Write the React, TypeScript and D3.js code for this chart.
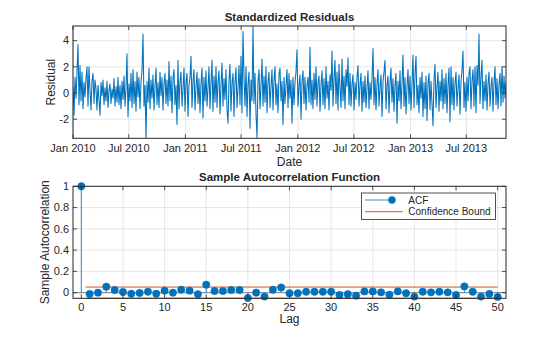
import React from "react";
import * as d3 from "d3";

// ---------- data ----------
const seriesStart = new Date(2010, 0, 1);
const seriesEnd = new Date(2013, 10, 7);

// standardized residuals (hand-estimated, read left to right from the picture)
const residuals = [
  0.5, -1.7, 1.2, -0.4, 1.6, 3.7, -0.9, 2.1, -0.6, 1.6, -1.2, 0.8, -0.3, 1.1, 2.0, -1.0, 2.0, 0.2, -1.3, 0.9,
  1.5, -0.8, 1.0, 0.3, -1.3, 0.6, -0.5, -1.7, 0.8, -0.2, 1.0, -0.9, 0.4, -0.6, 0.9, -1.1, 0.2, 0.7, -0.8, 0.3,
  -0.4, 1.1, -1.0, 0.5, -0.7, 1.2, -0.9, 0.6, -1.2, 0.9, -0.5, 1.3, -1.0, 0.4, 3.0, -1.8, 0.7, -0.6, 1.5, -1.1,
  1.8, -0.8, 0.9, -1.4, 1.6, -0.3, 1.2, -1.2, 0.8, 1.7, 4.5, -1.0, 0.6, -3.46, 0.9, -0.7, 1.9, -1.2, 1.0, -0.4,
  1.4, -1.3, 0.5, 1.9, -0.9, 0.8, -1.1, 1.6, -0.2, 1.2, -1.3, 0.7, 1.5, -0.8, 1.0, -1.0, 2.4, -0.6, 1.3, -1.5,
  1.1, 1.8, -0.9, 0.6, -2.4, 2.5, -1.2, 0.9, 1.6, -1.0, 0.3, 1.9, -1.4, 0.8, 1.5, -1.8, 0.6, 1.2, 2.8, -1.1,
  0.9, 1.8, -1.3, 0.5, 1.6, -0.8, 1.1, -1.5, 0.7, 1.9, -1.9, 1.2, -0.6, 1.7, -1.0, 0.4, 2.0, -1.2, 0.8, 2.5,
  -1.4, 1.3, -0.7, 2.0, -1.1, 0.9, 1.7, -1.6, 0.6, 2.3, -1.0, 1.1, -0.5, 1.8, -1.2, -2.3, 1.0, 2.2, -1.4, 0.8,
  1.5, -1.8, 0.9, 1.9, -1.1, 0.4, 2.1, -0.9, 2.8, -1.5, 4.7, 1.2, -1.0, 2.0, -1.8, 0.7, 1.6, -2.7, 1.0, -0.6,
  5.1, -0.8, 1.5, -1.6, -3.4, 0.9, 1.8, -1.2, 0.6, 2.6, -1.0, 1.3, -0.7, 2.0, -1.5, 0.8, 1.6, -1.1, 0.5, 1.8,
  -1.3, 1.0, 2.0, -0.9, 0.7, -1.5, 1.4, 1.9, -0.6, 0.9, -2.4, 1.2, -0.8, 0.6, 1.8, -1.1, 1.5, -0.4, 1.0, -2.3,
  1.2, -0.9, 0.8, 1.6, 3.3, -1.0, 0.5, 1.4, -2.0, 0.9, 1.7, -0.8, 1.2, -1.3, 0.6, 1.2, -0.7, 3.5, -0.9, 1.0,
  -1.2, 1.5, -0.5, 2.0, -1.0, 0.8, 1.3, -1.4, 0.6, 1.7, -0.9, 1.1, -1.2, 2.0, -0.4, 0.9, -1.3, 1.4, 0.2, 3.2,
  -1.0, 1.1, 2.5, -0.8, 1.6, -1.3, 2.2, 0.4, -1.1, 2.6, -0.6, 1.3, -1.2, 1.8, 0.5, 2.7, -0.9, 1.5, -1.0, 0.7,
  1.4, -1.3, 0.8, -0.5, 1.2, 2.1, -1.0, 0.6, 1.5, -1.4, 0.9, -0.7, 1.3, -1.1, 0.4, 1.7, -1.2, 0.8, -0.5, 1.1,
  3.4, -0.9, 1.2, -1.3, 0.7, 1.8, -1.0, 0.5, 1.4, -1.8, 0.9, 1.6, 2.5, -1.2, 0.6, 1.3, -1.5, 0.8, 1.9, -0.7,
  1.1, -1.4, 0.6, 1.5, -2.3, 0.9, -0.6, 1.7, -1.2, 0.8, 2.9, -1.0, 1.2, -1.6, 0.5, 1.8, -0.8, 1.3, -1.3, 0.7,
  2.9, -1.1, 1.4, 2.8, -0.9, 0.6, -1.5, 1.2, -0.4, 1.6, -1.8, 0.8, -1.2, 1.3, -2.1, 0.7, 1.5, -1.3, 0.9, -0.8,
  -2.5, 1.0, 2.2, -1.1, 0.5, 1.6, -1.4, 0.9, -0.6, 1.8, -1.2, 1.1, -0.8, 1.5, -1.5, 0.6, 1.9, -2.2, 2.0, -0.9,
  1.2, -1.3, 0.7, 1.6, -1.0, 0.4, 1.4, -1.6, 0.9, 1.7, 3.2, -1.1, 0.8, -1.4, 1.2, -0.6, 1.5, 2.0, -1.2, 0.9,
  1.8, -1.0, 2.0, -1.5, 2.1, 0.6, 4.5, -0.8, 1.3, 2.5, -1.2, 0.9, -0.6, 1.4, -1.3, 0.7, 1.6, -1.0, 0.5, 1.2,
  -1.4, 0.8, 2.0, -0.9, 1.1, -1.2, 0.6, 1.5, -1.0, 2.0, -0.7, 1.3, -0.4, 0.8,
];

const residualTicks = [-2, 0, 2, 4];

const acfValues = [
  1.0, -0.012, 0.0, 0.056, 0.025, 0.006, -0.01, -0.003, 0.009, -0.01,
  0.019, 0.0, 0.028, 0.019, -0.015, 0.075, 0.016, 0.016, 0.025, 0.025,
  -0.05, 0.0, -0.037, 0.027, 0.048, -0.006, -0.006, 0.009, 0.009, 0.009,
  0.009, -0.022, -0.015, -0.028, 0.012, 0.012, 0.003, -0.019, 0.012, -0.006,
  -0.037, 0.009, 0.003, 0.009, 0.003, -0.022, 0.059, 0.009, -0.037, -0.012,
  -0.04,
];
const confBound = 0.0526;
const lagTicks = [0, 5, 10, 15, 20, 25, 30, 35, 40, 45, 50];
const acfTicks = [0, 0.2, 0.4, 0.6, 0.8, 1];

// ---------- style ----------
const BLUE = "#0072BD";
const ORANGE = "#D95319";
const AX = "#262626";
const GRID = "#dfdfdf";
const FONT = "'Liberation Sans', Arial, Helvetica, sans-serif";

export default function App() {
  const W = 560, H = 337;

  // top axes
  const t = { l: 73, r: 506, t: 26, b: 138.3 };
  const xT = d3.scaleTime().domain([seriesStart, seriesEnd]).range([t.l, t.r]);
  const yT = d3.scaleLinear().domain([-3.46, 5.12]).range([t.b, t.t]);
  const stepMs = (seriesEnd.getTime() - seriesStart.getTime()) / (residuals.length - 1);
  const pts: [number, number][] = residuals.map((v, i) => [
    xT(new Date(seriesStart.getTime() + i * stepMs)),
    yT(v),
  ]);
  const linePath = d3.line()(pts) || "";
  const dateTicks = d3.timeMonth.every(6)!.range(seriesStart, seriesEnd);
  const fmt = d3.timeFormat("%b %Y");

  // bottom axes
  const b = { l: 73, r: 506, t: 186.3, b: 298.3 };
  const xB = d3.scaleLinear().domain([-1, 51]).range([b.l, b.r]);
  const yB = d3.scaleLinear().domain([-0.053, 1]).range([b.b, b.t]);

  const tick = 4;

  return (
    <svg
      width={W}
      height={H}
      style={{ position: "absolute", left: 0, top: 0, background: "#fff" }}
      fontFamily={FONT}
    >
      <rect width={W} height={H} fill="#fff" />
      <defs>
        <clipPath id="clipTop">
          <rect x={t.l} y={t.t} width={t.r - t.l} height={t.b - t.t} />
        </clipPath>
        <clipPath id="clipBot">
          <rect x={b.l} y={b.t - 1} width={b.r - b.l} height={b.b - b.t + 2} />
        </clipPath>
      </defs>

      {/* ===== Top: Standardized residuals ===== */}
      <g>
        {dateTicks.map((d, i) => (
          <line key={"tg" + i} x1={xT(d)} x2={xT(d)} y1={t.t} y2={t.b} stroke={GRID} strokeWidth={0.8} />
        ))}
        {residualTicks.map((v) => (
          <line key={"tgy" + v} x1={t.l} x2={t.r} y1={yT(v)} y2={yT(v)} stroke={GRID} strokeWidth={0.8} />
        ))}
        <path d={linePath} fill="none" stroke={BLUE} strokeWidth={1.05} strokeLinejoin="round" clipPath="url(#clipTop)" />
        <rect x={t.l} y={t.t} width={t.r - t.l} height={t.b - t.t} fill="none" stroke={AX} strokeWidth={1} />
        {dateTicks.map((d, i) => (
          <g key={"tx" + i}>
            <line x1={xT(d)} x2={xT(d)} y1={t.b} y2={t.b - tick} stroke={AX} strokeWidth={0.8} />
            <line x1={xT(d)} x2={xT(d)} y1={t.t} y2={t.t + tick} stroke={AX} strokeWidth={0.8} />
            <text x={xT(d)} y={151.5} textAnchor="middle" fontSize={11} fill={AX}>
              {fmt(d)}
            </text>
          </g>
        ))}
        {residualTicks.map((v) => (
          <g key={"ty" + v}>
            <line x1={t.l} x2={t.l + tick} y1={yT(v)} y2={yT(v)} stroke={AX} strokeWidth={0.8} />
            <line x1={t.r} x2={t.r - tick} y1={yT(v)} y2={yT(v)} stroke={AX} strokeWidth={0.8} />
            <text x={69} y={yT(v) + 3.8} textAnchor="end" fontSize={11} fill={AX}>
              {v}
            </text>
          </g>
        ))}
        <text x={(t.l + t.r) / 2} y={20.5} textAnchor="middle" fontSize={11.5} fontWeight="bold" fill={AX}>
          Standardized Residuals
        </text>
        <text x={(t.l + t.r) / 2} y={165.5} textAnchor="middle" fontSize={12} fill={AX}>
          Date
        </text>
        <text
          transform={`translate(55,${(t.t + t.b) / 2}) rotate(-90)`}
          textAnchor="middle"
          fontSize={12}
          fill={AX}
        >
          Residual
        </text>
      </g>

      {/* ===== Bottom: ACF ===== */}
      <g>
        {lagTicks.map((v) => (
          <line key={"bg" + v} x1={xB(v)} x2={xB(v)} y1={b.t} y2={b.b} stroke={GRID} strokeWidth={0.8} />
        ))}
        {acfTicks.map((v) => (
          <line key={"bgy" + v} x1={b.l} x2={b.r} y1={yB(v)} y2={yB(v)} stroke={GRID} strokeWidth={0.8} />
        ))}
        <line x1={b.l} x2={b.r} y1={yB(0)} y2={yB(0)} stroke="#808080" strokeWidth={1} />
        <g clipPath="url(#clipBot)">
          {[confBound, -confBound].map((cb, i) => (
            <line key={"cb" + i} x1={xB(0.5)} x2={xB(50)} y1={yB(cb)} y2={yB(cb)} stroke={ORANGE} strokeWidth={1} />
          ))}
        </g>
        {acfValues.map((v, i) => (
          <g key={"acf" + i}>
            <line x1={xB(i)} x2={xB(i)} y1={yB(0)} y2={yB(v)} stroke={BLUE} strokeWidth={0.8} />
            <circle cx={xB(i)} cy={yB(v)} r={3.7} fill={BLUE} stroke={BLUE} strokeWidth={0.5} />
          </g>
        ))}
        <rect x={b.l} y={b.t} width={b.r - b.l} height={b.b - b.t} fill="none" stroke={AX} strokeWidth={1} />
        {lagTicks.map((v) => (
          <g key={"bx" + v}>
            <line x1={xB(v)} x2={xB(v)} y1={b.b} y2={b.b - tick} stroke={AX} strokeWidth={0.8} />
            <line x1={xB(v)} x2={xB(v)} y1={b.t} y2={b.t + tick} stroke={AX} strokeWidth={0.8} />
            <text x={xB(v)} y={310.7} textAnchor="middle" fontSize={11} fill={AX}>
              {v}
            </text>
          </g>
        ))}
        {acfTicks.map((v) => (
          <g key={"by" + v}>
            <line x1={b.l} x2={b.l + tick} y1={yB(v)} y2={yB(v)} stroke={AX} strokeWidth={0.8} />
            <line x1={b.r} x2={b.r - tick} y1={yB(v)} y2={yB(v)} stroke={AX} strokeWidth={0.8} />
            <text x={69} y={yB(v) + 3.8} textAnchor="end" fontSize={11} fill={AX}>
              {v}
            </text>
          </g>
        ))}
        <text x={(b.l + b.r) / 2} y={181} textAnchor="middle" fontSize={11.5} fontWeight="bold" fill={AX}>
          Sample Autocorrelation Function
        </text>
        <text x={(b.l + b.r) / 2} y={322.5} textAnchor="middle" fontSize={12} fill={AX}>
          Lag
        </text>
        <text
          transform={`translate(49,${(b.t + b.b) / 2}) rotate(-90)`}
          textAnchor="middle"
          fontSize={12}
          fill={AX}
        >
          Sample Autocorrelation
        </text>

        {/* legend */}
        <rect x={361.5} y={193} width={134} height={26.5} fill="#fff" stroke={AX} strokeWidth={0.8} />
        <line x1={365} x2={392} y1={200} y2={200} stroke={BLUE} strokeWidth={0.8} />
        <circle cx={392} cy={200} r={3.7} fill={BLUE} />
        <text x={408.3} y={203.5} fontSize={10} fill={AX}>ACF</text>
        <line x1={365} x2={403} y1={211.7} y2={211.7} stroke={ORANGE} strokeWidth={1} />
        <text x={408.3} y={215.2} fontSize={10} fill={AX}>Confidence Bound</text>
      </g>
    </svg>
  );
}
